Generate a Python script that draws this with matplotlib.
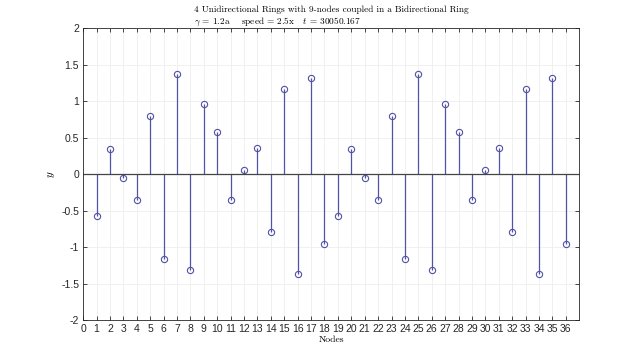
import matplotlib.pyplot as plt

plt.rcParams['mathtext.fontset'] = 'cm'
plt.rcParams['axes.unicode_minus'] = False

# положение узлов и значения y (читаем с картинки)
nodes = list(range(1, 37))
y_vals = [-0.57, 0.35, -0.05, -0.36, 0.80, -1.17, 1.37, -1.31, 0.96,
          0.57, -0.35, 0.05, 0.36, -0.80, 1.17, -1.37, 1.31, -0.96,
          -0.57, 0.35, -0.05, -0.36, 0.80, -1.17, 1.37, -1.31, 0.96,
          0.57, -0.35, 0.05, 0.36, -0.80, 1.17, -1.37, 1.31, -0.96]
xticks = list(range(0, 37))
yticks = [-2, -1.5, -1, -0.5, 0, 0.5, 1, 1.5, 2]
ytick_labels = ['-2', '-1.5', '-1', '-0.5', '0', '0.5', '1', '1.5', '2']

fig = plt.figure(figsize=(6.4, 3.6), dpi=100)
ax = fig.add_axes([0.13, 0.111, 0.775, 0.811])

col = '#5252a6'
ml, sl, bl = ax.stem(nodes, y_vals, basefmt='-')
plt.setp(sl, color=col, linewidth=0.9)
plt.setp(ml, markerfacecolor='none', markeredgecolor=col, markersize=4.5, markeredgewidth=0.8)
plt.setp(bl, color='#444444', linewidth=0.9)
bl.set_xdata([0, 37])

ax.set_xlim(0, 37)
ax.set_ylim(-2, 2)
ax.set_xticks(xticks)
ax.set_yticks(yticks)
ax.set_yticklabels(ytick_labels)
for lab in ax.get_xticklabels() + ax.get_yticklabels():
    lab.set_fontfamily('Liberation Sans')
    lab.set_fontsize(7.5)
ax.tick_params(direction='in', length=3, width=0.6, top=True, right=True,
               colors='#262626', pad=3)
ax.grid(True, color='#eeeeee', linewidth=0.6)
ax.set_axisbelow(True)
for s in ax.spines.values():
    s.set_color('#262626')
    s.set_linewidth(0.6)

ax.set_xlabel('Nodes', fontfamily='cmr10', fontsize=7, labelpad=1)
ax.set_ylabel('$y$', fontsize=8, labelpad=0)
ax.yaxis.set_label_coords(-0.052, 0.5)
title = ('4 Unidirectional Rings with 9-nodes coupled in a Bidirectional Ring\n'
         r'$\gamma$ = 1.2a    speed = 2.5x   $t$ = 30050.167')
ax.set_title(title, fontfamily='cmr10', fontsize=6.7, multialignment='left', pad=3)

fig.savefig('out.png', dpi=100)
